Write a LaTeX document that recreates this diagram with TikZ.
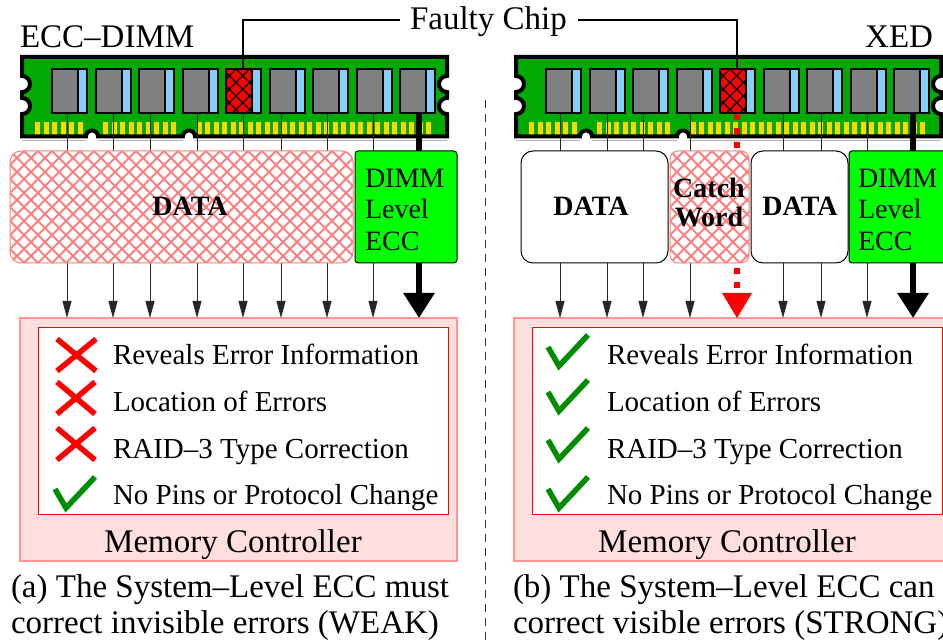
\documentclass[tikz,border=0pt]{standalone}
\usepackage{fontspec}
\setmainfont{Liberation Serif}
\usetikzlibrary{arrows.meta}
\definecolor{boardgreen}{RGB}{0,170,0}
\definecolor{chipgray}{RGB}{128,128,128}
\definecolor{chipblue}{RGB}{135,206,250}
\definecolor{pingold}{RGB}{255,215,0}
\definecolor{eccgreen}{RGB}{0,255,0}
\definecolor{mcfill}{RGB}{255,222,222}
\definecolor{mcborder}{RGB}{255,150,150}
\definecolor{hatchpink}{RGB}{255,128,128}
\definecolor{checkgreen}{RGB}{0,140,0}
\newcommand\boardpath{(22,57) -- (447,57) -- (447,76) arc[start angle=-90,end angle=-270,radius=8] -- (447,98) arc[start angle=-90,end angle=-270,radius=8] -- (447,136.5) -- (195,136.5) arc[start angle=0,end angle=-180,radius=6] -- (98,136.5) arc[start angle=0,end angle=-180,radius=6] -- (22,136.5) -- (22,114) arc[start angle=90,end angle=-90,radius=8] -- (22,92) arc[start angle=90,end angle=-90,radius=8] -- cycle}
\newcommand\drawdimm{%
  \fill[boardgreen] \boardpath;
  \foreach \i in {0,...,5} {\fill[pingold] ({35+8.5*\i},122) rectangle ++(5,14);}
  \foreach \i in {8,...,16} {\fill[pingold] ({35+8.5*\i},122) rectangle ++(5,14);}
  \foreach \i in {19,...,46} {\fill[pingold] ({35+8.5*\i},122) rectangle ++(5,14);}
  \foreach \c in {52,95.5,139,182.5,269.5,313,356.5,400} {%
    \draw[chipbody] (\c,69) rectangle ++(26,44);
    \draw[chipstrip] ({\c+26},69) rectangle ++(9,44);}
  \fill[red] (226,69) rectangle (252,113);
  \begin{scope}
    \clip (226,69) rectangle (252,113);
    \foreach \k in {0,...,8} {\draw[line width=1.3pt] ({182+13.5*\k},69) -- ++(44,44) ({182+13.5*\k},69) -- ++(-44,44);}
  \end{scope}
  \draw[line width=2pt] (226,69) rectangle (252,113);
  \draw[chipstrip] (252,69) rectangle ++(9,44);
  \draw[line width=4pt, line join=miter] \boardpath;
  \draw[black!30, line width=0.8pt] (22,140) -- (86,140) (98,140) -- (183,140) (195,140) -- (447,140);
}
\begin{document}
\begin{tikzpicture}[x=1pt,y=-1pt,
  every node/.style={inner sep=0pt, outer sep=0pt},
  lbl/.style={font=\fontsize{33}{38}\selectfont, anchor=base west},
  itemtxt/.style={font=\fontsize{29}{34}\selectfont, anchor=base west},
  boldtxt/.style={font=\fontsize{28}{30}\selectfont\bfseries, anchor=base},
  ecctxt/.style={font=\fontsize{28}{30}\selectfont, anchor=base west},
  chipbody/.style={draw=black, line width=2pt, fill=chipgray},
  chipstrip/.style={draw=black, line width=2pt, fill=chipblue},
  thinarr/.style={draw=black!85, line width=0.9pt, -{Triangle[length=17pt,width=9pt]}},
  thickarr/.style={draw=black, line width=6pt, -{Triangle[length=25pt,width=30pt]}},
  hatchbox/.style={draw=hatchpink, fill=white, line width=1pt, rectangle, anchor=north west,
    path picture={\foreach \k in {-10,...,35}{\draw[hatchpink, line width=2pt] ([xshift=\k*14pt]path picture bounding box.north west) -- ++(130,130) ([xshift=\k*14pt]path picture bounding box.north west) -- ++(-130,130);}}},
  whitebox/.style={draw=black, fill=white, line width=1pt, rounded corners=12pt, rectangle, anchor=north west},
  eccbox/.style={draw=black, fill=eccgreen, line width=1pt, rounded corners=3pt, rectangle, anchor=north west},
  mcbox/.style={draw=mcborder, fill=mcfill, line width=1.2pt, rectangle, anchor=north west},
  listbox/.style={draw=red, fill=white, line width=1pt, rectangle, anchor=north west},
  xmark/.style={draw=red, line width=5.5pt},
  checkmark/.style={draw=checkgreen, line width=5.5pt, line join=miter},
  connector/.style={draw=black, line width=1.2pt}
]
\useasboundingbox (0,0) rectangle (943,644);
\clip (0,0) rectangle (943,644);

% DIMM boards
\drawdimm
\begin{scope}[xshift=494pt]
  \drawdimm
\end{scope}

% labels on top
\node[lbl] (ecclbl) at (20,48) {ECC–DIMM};
\node[lbl, anchor=base east] (xedlbl) at (933,48) {XED};
\node[lbl] (fc) at (410,30) {Faulty Chip};
\coordinate (fcl) at (400,20);
\coordinate (fcr) at (578,20);
\coordinate (fL) at (243,69);
\coordinate (fR) at (737,69);
\draw[connector] (fcl) -| (fL);
\draw[connector] (fcr) -| (fR);

% memory controllers
\node[mcbox, minimum width=437pt, minimum height=243pt] (mcL) at (20,318) {};
\node[listbox, minimum width=410pt, minimum height=186pt] (listL) at (38,328) {};
\node[mcbox, minimum width=437pt, minimum height=243pt] (mcR) at (514,318) {};
\node[listbox, minimum width=410pt, minimum height=186pt] (listR) at (532,328) {};

% wires and arrows
\foreach \x in {67,113,150,197,243,281,327,373,560,607,643,690,783,821,867} {
  \draw[thinarr] (\x,113) -- (\x,318);
}
\draw[thickarr] (419,113) -- (419,318);
\draw[thickarr] (913,113) -- (913,318);
\draw[red, line width=6pt, dash pattern=on 6pt off 8pt] (737,114) -- (737,294);
\fill[red] (722,293) -- (752,293) -- (737,318) -- cycle;

% data boxes
\node[hatchbox, rounded corners=11pt, minimum width=343pt, minimum height=112pt] (dataL) at (10,151) {};
\node[eccbox, minimum width=102pt, minimum height=112pt] (eccL) at (355,151) {};
\node[whitebox, minimum width=147pt, minimum height=112pt] (dataR1) at (521,151) {};
\node[hatchbox, rounded corners=8pt, minimum width=79pt, minimum height=112pt] (catch) at (670,151) {};
\node[whitebox, minimum width=97pt, minimum height=112pt] (dataR2) at (751,151) {};
\node[eccbox, minimum width=102pt, minimum height=112pt] (eccR) at (849,151) {};

\node[boldtxt] at (190,216) {DATA};
\node[boldtxt] at (591,216) {DATA};
\node[boldtxt] at (800,216) {DATA};
\node[boldtxt] at (709,198) {Catch};
\node[boldtxt] at (709,227) {Word};
\node[ecctxt] at (365,188) {DIMM};
\node[ecctxt] at (365,219) {Level};
\node[ecctxt] at (365,251) {ECC};
\node[ecctxt] at (858,188) {DIMM};
\node[ecctxt] at (858,219) {Level};
\node[ecctxt] at (858,251) {ECC};

% list items
\draw[xmark] (57,339) -- (96,371) (57,371) -- (96,339);
\draw[xmark] (57,382) -- (95,414) (57,414) -- (95,382);
\draw[xmark] (57,428) -- (95,460) (57,460) -- (95,428);
\draw[checkmark] (55,489) -- (66,508) -- (95,477);
\foreach \t in {335,380,428,477} {
  \draw[checkmark] (548,{\t+12}) -- (559,{\t+31}) -- (588,\t);
}
\foreach \dx in {0,494} {
  \node[itemtxt] at ({113+\dx},365) {Reveals Error Information};
  \node[itemtxt] at ({113+\dx},411) {Location of Errors};
  \node[itemtxt] at ({113+\dx},458) {RAID–3 Type Correction};
  \node[itemtxt] at ({113+\dx},504) {No Pins or Protocol Change};
  \node[lbl, anchor=base] at ({233+\dx},552) {Memory Controller};
}

% captions
\node[lbl] at (11,597) {(a) The System–Level ECC must};
\node[lbl] at (11,633) {correct invisible errors (WEAK)};
\node[lbl] at (513,597) {(b) The System–Level ECC can};
\node[lbl] at (513,633) {correct visible errors (STRONG)};

% separator
\draw[black!80, line width=0.8pt, dash pattern=on 8pt off 6pt] (485,100) -- (485,644);
\end{tikzpicture}
\end{document}
